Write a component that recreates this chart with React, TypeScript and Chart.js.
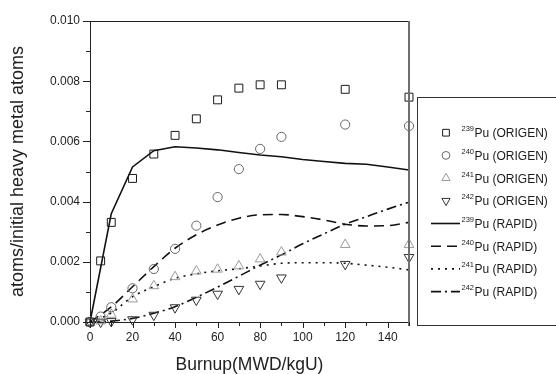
import React, { useEffect, useRef } from 'react';
import { Chart, registerables } from 'chart.js';
import { drawPoint } from 'chart.js/helpers';

Chart.register(...registerables);

// ---------- data ----------
const burnupOrigen = [0, 5, 10, 20, 30, 40, 50, 60, 70, 80, 90, 120, 150];
const pu239Origen = [0, 0.00203, 0.00331, 0.00477, 0.00558, 0.0062, 0.00675, 0.00738, 0.00777, 0.00788, 0.00788, 0.00773, 0.00747];
const pu240Origen = [0, 0.00018, 0.00049, 0.00112, 0.00176, 0.00243, 0.0032, 0.00415, 0.00508, 0.00575, 0.00615, 0.00656, 0.00651];
const pu241Origen = [0, 0.00003, 0.00025, 0.00076, 0.0012, 0.0015, 0.00169, 0.00175, 0.00186, 0.00209, 0.00232, 0.00257, 0.00257];
const pu242Origen = [0, 0.0, 0.00002, 0.00008, 0.00023, 0.00048, 0.00073, 0.00093, 0.00109, 0.00126, 0.00147, 0.00192, 0.00215];

const burnupRapid = [0, 10, 20, 30, 40, 50, 60, 70, 80, 90, 100, 110, 120, 130, 140, 150];
const pu239Rapid = [0, 0.0036, 0.00515, 0.00569, 0.00582, 0.00578, 0.00572, 0.00563, 0.00555, 0.00549, 0.0054, 0.00533, 0.00527, 0.00524, 0.00515, 0.00505];
const pu240Rapid = [0, 0.0005, 0.00117, 0.00184, 0.00245, 0.0029, 0.00322, 0.00345, 0.00356, 0.00357, 0.0035, 0.00339, 0.00325, 0.00319, 0.0032, 0.00331];
const pu241Rapid = [0, 0.0003, 0.00084, 0.00117, 0.00145, 0.0016, 0.0017, 0.00177, 0.00186, 0.00195, 0.00197, 0.00197, 0.00195, 0.00189, 0.00182, 0.00173];
const pu242Rapid = [0, 0.00003, 0.00012, 0.00029, 0.00051, 0.00082, 0.00116, 0.00152, 0.00189, 0.00223, 0.0026, 0.00293, 0.00325, 0.0035, 0.00375, 0.00398];

const isotopes = ['239', '240', '241', '242'];
const origenName = 'Pu (ORIGEN)';
const rapidName = 'Pu (RAPID)';

const xTitle = 'Burnup(MWD/kgU)';
const yTitle = 'atoms/initial heavy metal atoms';

// ---------- styles ----------
const FONT = '"Liberation Sans", Arial, Helvetica, sans-serif';
const markerStyles = [
  { pointStyle: 'rect', radius: 5.6, rotation: 0, color: '#1a1a1a' },
  { pointStyle: 'circle', radius: 4.6, rotation: 0, color: '#666666' },
  { pointStyle: 'triangle', radius: 5.6, rotation: 0, color: '#9a9a9a' },
  { pointStyle: 'triangle', radius: 5.6, rotation: 180, color: '#333333' },
];
const lineDashes = [[], [10, 6], [2, 5], [10, 4, 2, 4]];

function pairs(xs: number[], ys: number[]) {
  return xs.map((x, i) => ({ x, y: ys[i] }));
}

const origenSets = [pu239Origen, pu240Origen, pu241Origen, pu242Origen];
const rapidSets = [pu239Rapid, pu240Rapid, pu241Rapid, pu242Rapid];

const framePlugin = {
  id: 'frameAndTicks',
  afterDraw(chart: any) {
    const { ctx, chartArea } = chart;
    const { left, right, top, bottom } = chartArea;
    const xs = chart.scales.x;
    const ys = chart.scales.y;
    ctx.save();
    ctx.strokeStyle = '#222';
    ctx.lineWidth = 1;
    ctx.beginPath();
    ctx.moveTo(left, top + 0.5);
    ctx.lineTo(right, top + 0.5);
    ctx.stroke();
    ctx.strokeStyle = '#6f6f6f';
    ctx.lineWidth = 2;
    ctx.beginPath();
    ctx.moveTo(right, top);
    ctx.lineTo(right, bottom + 4);
    ctx.stroke();
    ctx.strokeStyle = '#222';
    ctx.lineWidth = 1;
    for (let i = 0; i <= 10; i++) {
      const v = i * 0.001;
      const py = Math.round(ys.getPixelForValue(v)) + 0.5;
      const len = i % 2 === 0 ? 7 : 4;
      ctx.beginPath();
      ctx.moveTo(left - len, py);
      ctx.lineTo(left, py);
      ctx.stroke();
    }
    for (let i = 0; i <= 15; i++) {
      const v = i * 10;
      const px = Math.round(xs.getPixelForValue(v)) + 0.5;
      const len = i % 2 === 0 ? 6 : 4;
      ctx.beginPath();
      ctx.moveTo(px, bottom);
      ctx.lineTo(px, bottom + len);
      ctx.stroke();
    }
    ctx.restore();
  },
};

const legendPlugin = {
  id: 'customLegend',
  afterDraw(chart: any) {
    const { ctx } = chart;
    ctx.save();
    ctx.strokeStyle = '#333';
    ctx.lineWidth = 1;
    ctx.strokeRect(417.5, 97.5, 200, 228);
    const rowY0 = 132.7;
    const step = 22.7;
    const items: any[] = [];
    isotopes.forEach((iso, i) => items.push({ kind: 'marker', iso, name: origenName, idx: i }));
    isotopes.forEach((iso, i) => items.push({ kind: 'line', iso, name: rapidName, idx: i }));
    items.forEach((it, k) => {
      const y = rowY0 + k * step;
      if (it.kind === 'marker') {
        const m = markerStyles[it.idx];
        ctx.strokeStyle = m.color;
        ctx.fillStyle = 'rgba(0,0,0,0)';
        ctx.lineWidth = 1;
        drawPoint(ctx, { pointStyle: m.pointStyle, radius: m.radius * 0.85, rotation: m.rotation, borderWidth: 1 } as any, 446, y);
      } else {
        ctx.strokeStyle = '#111';
        ctx.lineWidth = 1.6;
        ctx.setLineDash(lineDashes[it.idx]);
        ctx.beginPath();
        ctx.moveTo(431, y);
        ctx.lineTo(460, y);
        ctx.stroke();
        ctx.setLineDash([]);
      }
      ctx.fillStyle = '#1a1a1a';
      ctx.textBaseline = 'alphabetic';
      ctx.textAlign = 'left';
      ctx.font = `7.5px ${FONT}`;
      ctx.fillText(it.iso, 461.5, y - 1.5);
      const w = ctx.measureText(it.iso).width;
      ctx.font = `12px ${FONT}`;
      ctx.fillText(it.name, 461.5 + w + 0.5, y + 4.5);
    });
    ctx.restore();
  },
};

export default function App() {
  const ref = useRef<HTMLCanvasElement | null>(null);
  useEffect(() => {
    if (!ref.current) return;
    const datasets: any[] = [];
    origenSets.forEach((ys, i) => {
      const m = markerStyles[i];
      datasets.push({
        label: isotopes[i] + origenName,
        data: pairs(burnupOrigen, ys),
        showLine: false,
        pointStyle: m.pointStyle,
        pointRadius: m.radius,
        pointRotation: m.rotation,
        pointBorderColor: m.color,
        pointBackgroundColor: 'rgba(0,0,0,0)',
        pointBorderWidth: 1,
        borderColor: m.color,
        backgroundColor: 'rgba(0,0,0,0)',
        clip: false,
        order: 0,
      });
    });
    rapidSets.forEach((ys, i) => {
      datasets.push({
        label: isotopes[i] + rapidName,
        data: pairs(burnupRapid, ys),
        showLine: true,
        borderColor: '#111',
        borderWidth: 1.6,
        borderDash: lineDashes[i],
        pointRadius: 0,
        tension: i === 0 ? 0 : 0.4,
        cubicInterpolationMode: i === 0 ? 'default' : 'monotone',
        fill: false,
        clip: false,
        order: 1,
      });
    });
    const chart = new Chart(ref.current, {
      type: 'line',
      data: { datasets },
      options: {
        animation: false,
        responsive: false,
        maintainAspectRatio: false,
        layout: { padding: { left: 0, right: 147, top: 21, bottom: 0 } },
        plugins: { legend: { display: false }, tooltip: { enabled: false } },
        scales: {
          x: {
            type: 'linear',
            min: 0,
            max: 150,
            afterFit: (s: any) => { s.height = 52; },
            grid: { display: false, drawTicks: false },
            border: { display: true, color: '#222', width: 1 },
            ticks: {
              stepSize: 10,
              autoSkip: false,
              maxRotation: 0,
              padding: 8,
              color: '#222',
              font: { family: FONT, size: 12 },
              callback: (v: any) => (v % 20 === 0 && v <= 140 ? String(v) : ''),
            },
            title: {
              display: true,
              text: xTitle,
              color: '#222',
              font: { family: FONT, size: 17.5, lineHeight: 1 },
              padding: { top: 0, bottom: 0 },
            },
          },
          y: {
            type: 'linear',
            min: 0,
            max: 0.01,
            afterFit: (s: any) => { s.width = 90; },
            grid: { display: false, drawTicks: false },
            border: { display: true, color: '#222', width: 1 },
            ticks: {
              stepSize: 0.001,
              autoSkip: false,
              padding: 10,
              color: '#222',
              font: { family: FONT, size: 12 },
              callback: (v: any) => (Math.round(v * 1000) % 2 === 0 ? Number(v).toFixed(3) : ''),
            },
            title: {
              display: true,
              text: yTitle,
              color: '#222',
              font: { family: FONT, size: 18, lineHeight: 1 },
              padding: { top: 9, bottom: 0 },
            },
          },
        },
      },
      plugins: [framePlugin, legendPlugin],
    } as any);
    return () => chart.destroy();
  }, []);
  return (
    <div style={{ position: 'fixed', left: 0, top: 0, width: 556, height: 374, background: '#fff' }}>
      <canvas ref={ref} width={556} height={374} style={{ display: 'block' }} />
    </div>
  );
}
